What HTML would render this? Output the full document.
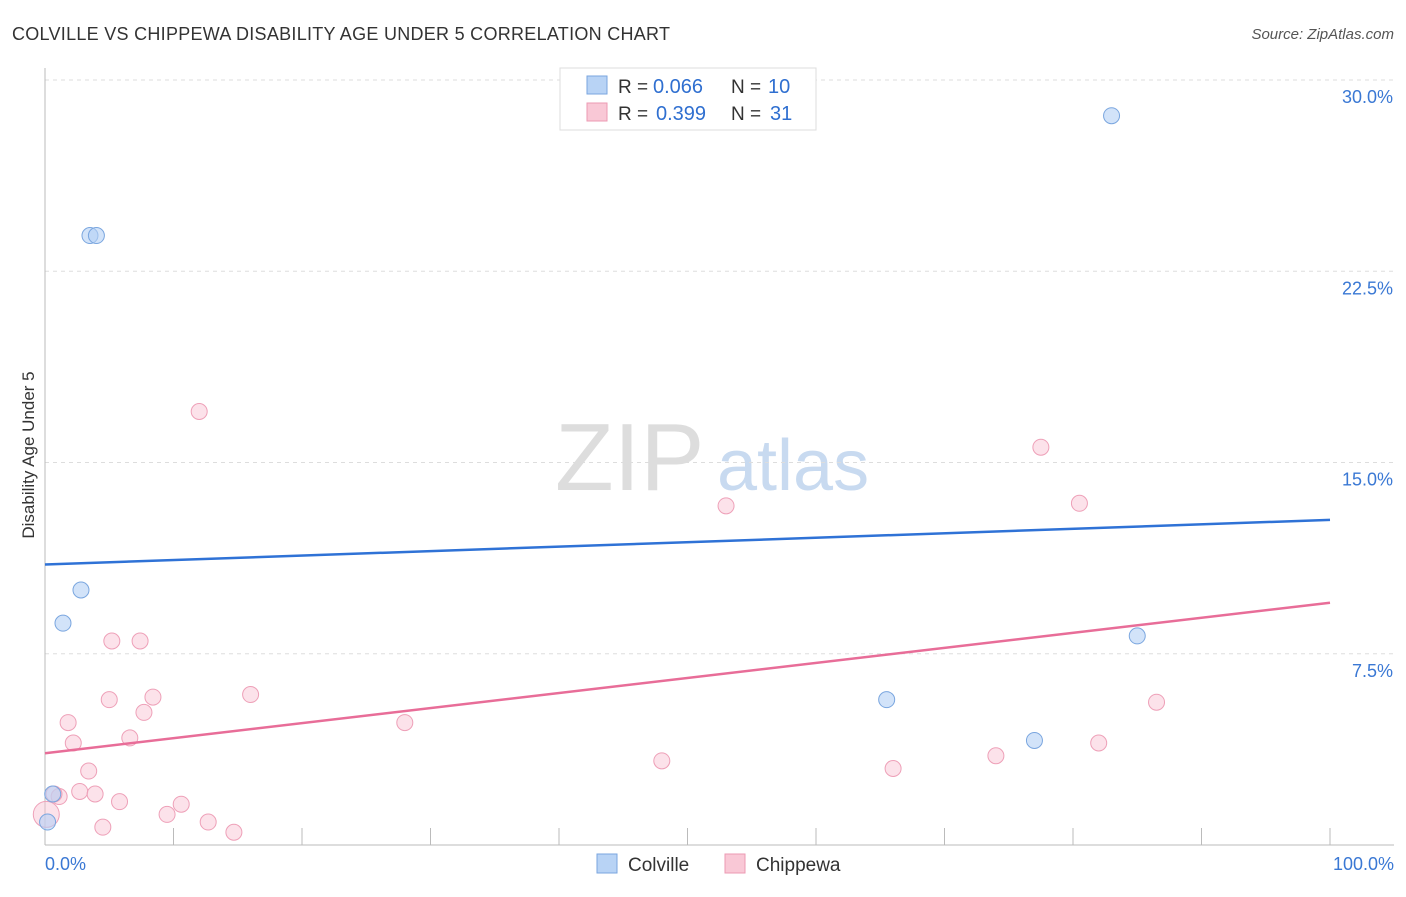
<!DOCTYPE html>
<html><head><meta charset="utf-8"><style>
body{margin:0;background:#fff;font-family:"Liberation Sans",sans-serif;}
svg text{font-family:"Liberation Sans",sans-serif;}
</style></head><body>
<svg id="c" width="1406" height="892" xmlns="http://www.w3.org/2000/svg">
<text x="12" y="40" font-size="18" fill="#333" textLength="658">COLVILLE VS CHIPPEWA DISABILITY AGE UNDER 5 CORRELATION CHART</text>
<text x="1394" y="39" font-size="15" fill="#555" font-style="italic" text-anchor="end">Source: ZipAtlas.com</text>
<text x="34" y="455" font-size="17" fill="#333" text-anchor="middle" transform="rotate(-90 34 455)">Disability Age Under 5</text>
<text x="555" y="490" font-size="96" fill="#ddd" font-family="Liberation Serif">ZIP</text>
<text x="717" y="490" font-size="72" fill="#c8daf0">atlas</text>
<g id="grid"></g><g id="marks"></g>
<g>
<rect x="560" y="68" width="256" height="62" fill="#fff" stroke="#ddd"/>
<rect x="587" y="76" width="20" height="18" fill="#b8d3f5" stroke="#7aa6df"/>
<rect x="587" y="103" width="20" height="18" fill="#f9c8d6" stroke="#ec9ab3"/>
<text x="618" y="93" font-size="19" fill="#333">R =</text>
<text x="653" y="93" font-size="20" fill="#2f6fd0">0.066</text>
<text x="731" y="93" font-size="19" fill="#333">N =</text>
<text x="768" y="93" font-size="20" fill="#2f6fd0">10</text>
<text x="618" y="120" font-size="19" fill="#333">R =</text>
<text x="656" y="120" font-size="20" fill="#2f6fd0">0.399</text>
<text x="731" y="120" font-size="19" fill="#333">N =</text>
<text x="770" y="120" font-size="20" fill="#2f6fd0">31</text>
</g>
<g>
<rect x="597" y="854" width="20" height="19" fill="#b8d3f5" stroke="#7aa6df"/>
<text x="628" y="871" font-size="19" fill="#333">Colville</text>
<rect x="725" y="854" width="20" height="19" fill="#f9c8d6" stroke="#ec9ab3"/>
<text x="756" y="871" font-size="19" fill="#333">Chippewa</text>
</g>
</svg>
<script>
const yTicks=[7.5,15,22.5,30];
const yTickLabels=["7.5%","15.0%","22.5%","30.0%"];
const colX=[3.5,4.0,2.8,1.4,0.6,0.2,83,85,65.5,77];
const colY=[23.9,23.9,10.0,8.7,2.0,0.9,28.6,8.2,5.7,4.1];
const chipX=[12,1.8,2.2,5,5.2,7.4,8.4,7.7,6.6,3.4,2.7,3.9,1.1,0.7,5.8,4.5,9.5,10.6,12.7,14.7,16,28,48,53,66,74,77.5,80.5,82,86.5,0.1];
const chipY=[17,4.8,4.0,5.7,8.0,8.0,5.8,5.2,4.2,2.9,2.1,2.0,1.9,2.0,1.7,0.7,1.2,1.6,0.9,0.5,5.9,4.8,3.3,13.3,3.0,3.5,15.6,13.4,4.0,5.6,1.2];
const colTrend=[11.0,12.75];
const chipTrend=[3.6,9.5];
const X=v=>45+v*12.85, Y=v=>845-v*25.5;
const NS="http://www.w3.org/2000/svg";
const g=document.getElementById('grid'), m=document.getElementById('marks');
function mk(p,tag,a){const e=document.createElementNS(NS,tag);for(const k in a)e.setAttribute(k,a[k]);p.appendChild(e);return e;}
yTicks.forEach((t,i)=>{
 const l=mk(g,'line',{x1:45,x2:1394,y1:Y(t),y2:Y(t),stroke:'#ddd','stroke-dasharray':'4,4'});
 
 
 const tx=mk(g,'text',{x:1393,y:Y(t)+23,'font-size':18,fill:'#3a78d4','text-anchor':'end'});
 tx.textContent=yTickLabels[i];
 
 
});
let ax=mk(g,'line',{x1:45,x2:45,y1:68,y2:845,stroke:'#bbb'});


let bx=mk(g,'line',{x1:45,x2:1394,y1:845,y2:845,stroke:'#bbb'});


for(let i=0;i<=10;i++){const t=mk(g,'line',{x1:X(i*10),x2:X(i*10),y1:828,y2:845,stroke:'#bbb'});
 
 }
[["0.0%",45,'start'],["100.0%",1394,'end']].forEach(([s,x,a])=>{const t=mk(g,'text',{x:x,y:870,'font-size':18,fill:'#3a78d4','text-anchor':a});t.textContent=s;
 
 });
chipX.forEach((v,i)=>{const c=mk(m,'circle',{cx:X(v),cy:Y(chipY[i]),r:(i==chipX.length-1?13:8),fill:'rgba(249,190,208,0.45)',stroke:'#eea0b8','stroke-width':1});
 
 });
colX.forEach((v,i)=>{const c=mk(m,'circle',{cx:X(v),cy:Y(colY[i]),r:8,fill:'rgba(180,208,245,0.6)',stroke:'#7aa6df','stroke-width':1});
 
 });
let t1=mk(m,'line',{x1:X(0),x2:X(100),y1:Y(colTrend[0]),y2:Y(colTrend[1]),stroke:'#2f72d6','stroke-width':2.5});


let t2=mk(m,'line',{x1:X(0),x2:X(100),y1:Y(chipTrend[0]),y2:Y(chipTrend[1]),stroke:'#e86d98','stroke-width':2.5});


</script>
</body></html>
